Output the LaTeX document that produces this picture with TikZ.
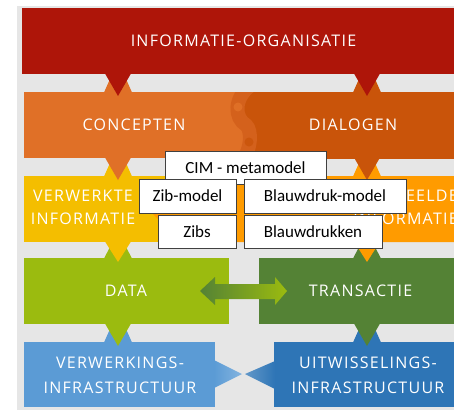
\documentclass[tikz,border=0pt]{standalone}
\usepackage{fontspec}
\setmainfont{Carlito}
\newfontfamily\bandfont[LetterSpace=8]{Open Sans}
\definecolor{bggray}{HTML}{E6E6E6}
\definecolor{redB}{HTML}{AE1509}
\definecolor{orL}{HTML}{E07027}
\definecolor{orD}{HTML}{C9540A}
\definecolor{orM}{HTML}{D4611C}
\definecolor{yelB}{HTML}{F4BE00}
\definecolor{or2}{HTML}{FF9B00}
\definecolor{grL}{HTML}{9BBB0F}
\definecolor{grD}{HTML}{548235}
\definecolor{blL}{HTML}{5B9BD5}
\definecolor{blD}{HTML}{2E75B6}
\definecolor{boxline}{HTML}{404040}
\newcommand\junction[5]{%
  \fill[#5] (#1-14,#3+0.5) -- (#1-8,#2+5) -- (#1+8,#2+5) -- (#1+14,#3+0.5) -- cycle;
  \fill[#4] (#1-13,#2-0.5) -- (#1,#3+4) -- (#1+13,#2-0.5) -- cycle;}
\tikzset{
  bandtext/.style={text=white, font=\bandfont\fontsize{16}{23}\selectfont, align=center, inner sep=0pt},
  labelbox/.style={draw=boxline, line width=0.9pt, fill=white, inner sep=0pt,
    font=\fontsize{17}{20}\selectfont, text=black}
}
\begin{document}
\begin{tikzpicture}[x=1pt,y=-1pt]
\useasboundingbox (0,0) rectangle (454,410);
\begin{scope}
\clip (0,0) rectangle (454,410);
\fill[bggray] (17,6) rectangle (454,410);
% red band
\fill[redB] (22,8) rectangle (454,74);
% orange band with swirl
\begin{scope}
\clip (24,92) rectangle (454,158);
\fill[orL] (24,92) rectangle (454,158);
\fill[orD] (250,86) .. controls (234,98) and (234,118) .. (246,125) .. controls (252,130) and (252,150) .. (240,164) -- (454,164) -- (454,86) -- cycle;
\draw[orM, line width=14pt] (250,86) .. controls (234,98) and (234,118) .. (246,125) .. controls (252,130) and (252,150) .. (240,164);
\fill[orL!92!orM] (238,107) circle (4.5);
\fill[orD!85!orM] (249,142) circle (4.5);
\end{scope}
% yellow / orange band
\fill[yelB] (24,176) rectangle (170,242);
\fill[or2] (152,213) -- (170,194) -- (170,176) -- (454,176) -- (454,242) -- (170,242) -- (170,231) -- cycle;
% green row
\fill[grL] (24,258) rectangle (229,324);
\fill[grD] (259,258) rectangle (454,324);
% blue row
\fill[blL] (24,342) rectangle (215,407);
\fill[blD] (274,342) rectangle (454,407);
% junction pointers
\junction{118}{74}{92}{redB}{orL}
\junction{367}{74}{92}{redB}{orD}
\junction{118}{158}{176}{orL}{yelB}
\junction{367}{158}{176}{orD}{or2}
\junction{118}{242}{258}{yelB}{grL}
\junction{367}{242}{258}{or2}{grD}
\junction{118}{324}{342}{grL}{blL}
\junction{367}{324}{342}{grD}{blD}
% double arrow between DATA and TRANSACTIE
\shade[left color=grD, right color=grL] (200,291) -- (215,277) -- (215,284) -- (275,284) -- (275,277) -- (287,291) -- (275,305) -- (275,299) -- (215,299) -- (215,305) -- cycle;
% bow tie between infrastructures
\shade[left color=blL, right color=blL!75!white] (214,360) -- (242,374) -- (214,388) -- cycle;
\shade[left color=blD!75!white, right color=blD] (275,361) -- (245,374) -- (275,389) -- cycle;
% band texts
\node[bandtext] (info) at (243.5,41) {INFORMATIE-ORGANISATIE};
\node[bandtext] (concepten) at (134,125) {CONCEPTEN};
\node[bandtext] (dialogen) at (353,125) {DIALOGEN};
\node[bandtext] (verwerkte) at (83,207) {VERWERKTE\\INFORMATIE};
\node[bandtext, align=right, anchor=east] (gedeelde) at (458,207) {GEDEELDE\\INFORMATIE};
\node[bandtext] (data) at (126,291) {DATA};
\node[bandtext] (transactie) at (360.5,291) {TRANSACTIE};
\node[bandtext, font=\bandfont\fontsize{16}{25}\selectfont] (verwerkings) at (120,375) {VERWERKINGS-\\INFRASTRUCTUUR};
\node[bandtext, font=\bandfont\fontsize{16}{25}\selectfont] (uitwisselings) at (368,375) {UITWISSELINGS-\\INFRASTRUCTUUR};
% label boxes
\node[labelbox, minimum width=161pt, minimum height=33pt] (cim) at (245.5,167.5) {CIM - metamodel};
\node[labelbox, minimum width=97pt, minimum height=34pt] (zibmodel) at (187.5,196) {Zib-model};
\node[labelbox, minimum width=162pt, minimum height=34pt] (bdmodel) at (325,196) {Blauwdruk-model};
\node[labelbox, minimum width=78pt, minimum height=33pt] (zibs) at (197,231.5) {Zibs};
\node[labelbox, minimum width=138pt, minimum height=33pt] (bdrukken) at (313,231.5) {Blauwdrukken};
\end{scope}
\end{tikzpicture}
\end{document}
